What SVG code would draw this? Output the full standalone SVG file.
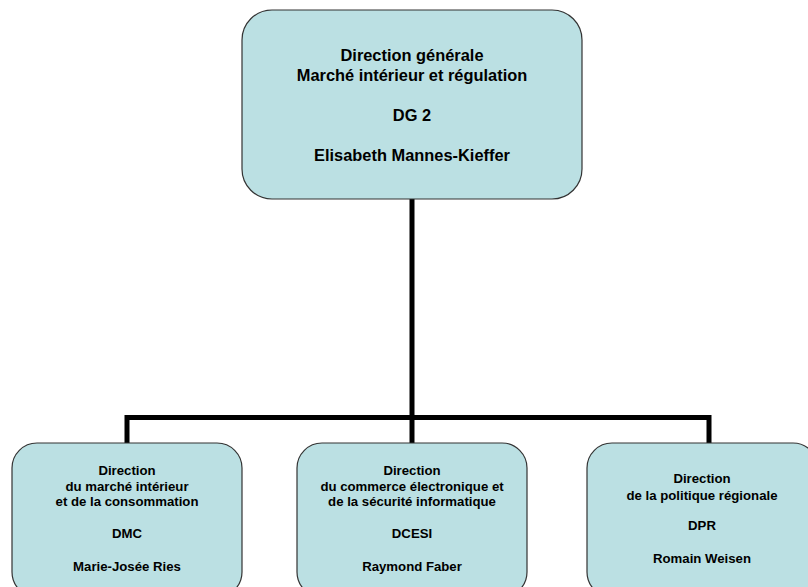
<svg xmlns="http://www.w3.org/2000/svg" width="808" height="587" viewBox="0 0 808 587">
  <style>
    .box { fill: #BBE0E3; stroke: #333333; stroke-width: 1.2; }
    .link { fill: none; stroke: #000000; stroke-width: 5; stroke-linejoin: miter; stroke-linecap: butt; }
    text { font-family: "Liberation Sans", Arial, sans-serif; font-weight: bold; fill: #000000; text-anchor: middle; }
    .big { font-size: 16.4px; }
    .small { font-size: 13.2px; }
  </style>
  <rect x="0" y="0" width="808" height="587" fill="#FFFFFF"/>

  <!-- connectors -->
  <g id="connectors">
    <path class="link" d="M412,199 V417.5"/>
    <path class="link" d="M127,443 V417.5 H709 V443"/>
    <path class="link" d="M412,417.5 V443"/>
  </g>

  <!-- head of the directorate -->
  <g id="dg2">
    <rect class="box" x="242" y="10" width="340" height="189" rx="30" ry="30"/>
    <text class="big" x="412" y="61">Direction générale</text>
    <text class="big" x="412" y="81">Marché intérieur et régulation</text>
    <text class="big" x="412" y="121">DG 2</text>
    <text class="big" x="412" y="161">Elisabeth Mannes-Kieffer</text>
  </g>

  <g id="dmc">
    <rect class="box" x="12" y="443" width="230" height="154" rx="25" ry="25"/>
    <text class="small" x="127" y="475">Direction</text>
    <text class="small" x="127" y="491">du marché intérieur</text>
    <text class="small" x="127" y="506">et de la consommation</text>
    <text class="small" x="127" y="538">DMC</text>
    <text class="small" x="127" y="571">Marie-Josée Ries</text>
  </g>

  <g id="dcesi">
    <rect class="box" x="297" y="443" width="230" height="154" rx="25" ry="25"/>
    <text class="small" x="412" y="475">Direction</text>
    <text class="small" x="412" y="491">du commerce électronique et</text>
    <text class="small" x="412" y="506">de la sécurité informatique</text>
    <text class="small" x="412" y="538">DCESI</text>
    <text class="small" x="412" y="571">Raymond Faber</text>
  </g>

  <g id="dpr">
    <rect class="box" x="587" y="443" width="231" height="154" rx="25" ry="25"/>
    <text class="small" x="702" y="483">Direction</text>
    <text class="small" x="702" y="500">de la politique régionale</text>
    <text class="small" x="702" y="530">DPR</text>
    <text class="small" x="702" y="563">Romain Weisen</text>
  </g>
</svg>
